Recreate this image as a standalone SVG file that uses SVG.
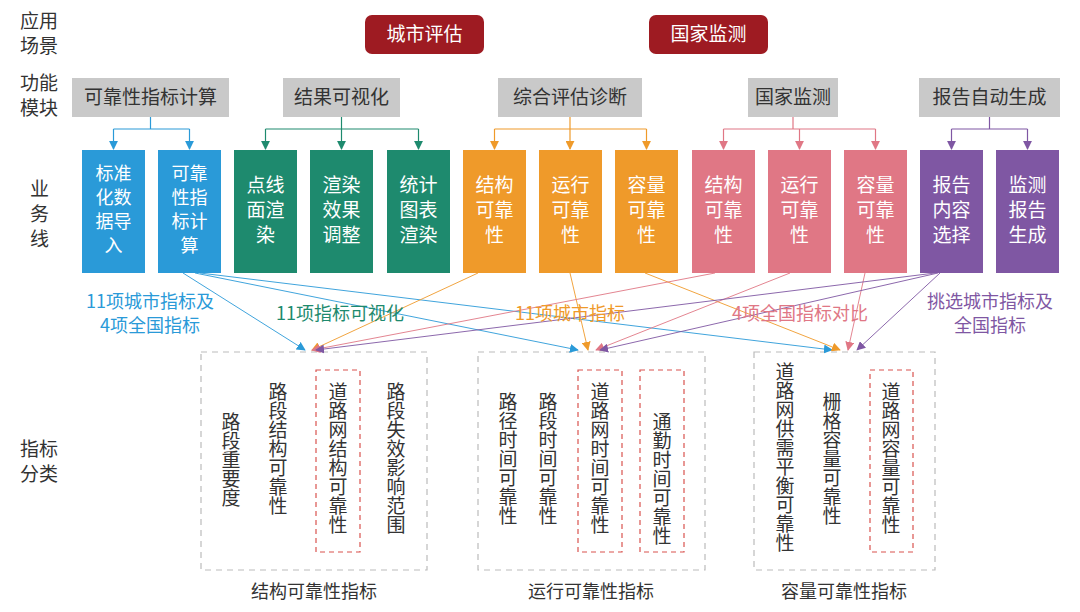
<svg xmlns="http://www.w3.org/2000/svg" width="1080" height="612" viewBox="0 0 1080 612">
<defs>
<style>
text{font-family:"Noto Sans CJK SC","Liberation Sans",sans-serif;font-size:19px;fill:#333}
.w{fill:#fff;text-anchor:middle}
.s{font-size:18px}
.m{fill:#c9c9c9}
.mt{fill:#333;text-anchor:middle}
.v{writing-mode:vertical-rl;letter-spacing:0px}
.dash{fill:none;stroke:#bbb;stroke-width:1.2;stroke-dasharray:6 5}
.rdash{fill:none;stroke:#d9534f;stroke-width:1.2;stroke-dasharray:5 4}
.lb{text-anchor:middle;font-size:18px}
</style>
<marker id="ab" viewBox="0 0 10 10" refX="9" refY="5" markerWidth="9" markerHeight="9" orient="auto" markerUnits="userSpaceOnUse"><path d="M0,0L10,5L0,10z" fill="#2a9ad8"/></marker>
<marker id="ag" viewBox="0 0 10 10" refX="9" refY="5" markerWidth="9" markerHeight="9" orient="auto" markerUnits="userSpaceOnUse"><path d="M0,0L10,5L0,10z" fill="#1e8a6e"/></marker>
<marker id="ao" viewBox="0 0 10 10" refX="9" refY="5" markerWidth="9" markerHeight="9" orient="auto" markerUnits="userSpaceOnUse"><path d="M0,0L10,5L0,10z" fill="#ef9a2a"/></marker>
<marker id="ap" viewBox="0 0 10 10" refX="9" refY="5" markerWidth="9" markerHeight="9" orient="auto" markerUnits="userSpaceOnUse"><path d="M0,0L10,5L0,10z" fill="#e07785"/></marker>
<marker id="av" viewBox="0 0 10 10" refX="9" refY="5" markerWidth="9" markerHeight="9" orient="auto" markerUnits="userSpaceOnUse"><path d="M0,0L10,5L0,10z" fill="#7f57a3"/></marker>
</defs>
<rect width="1080" height="612" fill="#fff"/>
<g id="side-labels">
<text x="20" y="28">应用</text><text x="20" y="53">场景</text>
<text x="20" y="90">功能</text><text x="20" y="115">模块</text>
<text x="30" y="196">业</text><text x="30" y="221">务</text><text x="30" y="246">线</text>
<text x="20" y="456">指标</text><text x="20" y="481">分类</text>
</g>
<g id="scenarios">
<rect x="365" y="15" width="119" height="39" rx="7" fill="#9e1b22"/><text class="w" x="424.5" y="41">城市评估</text>
<rect x="649" y="15" width="119" height="39" rx="7" fill="#9e1b22"/><text class="w" x="708.5" y="41">国家监测</text>
</g>
<g id="modules">
<rect class="m" x="72" y="78" width="157" height="39"/><text class="mt" x="150.5" y="104">可靠性指标计算</text>
<rect class="m" x="283" y="78" width="117" height="39"/><text class="mt" x="341.5" y="104">结果可视化</text>
<rect class="m" x="498" y="78" width="144" height="39"/><text class="mt" x="570" y="104">综合评估诊断</text>
<rect class="m" x="748" y="78" width="90" height="39"/><text class="mt" x="793" y="104">国家监测</text>
<rect class="m" x="919" y="78" width="141" height="39"/><text class="mt" x="989.5" y="104">报告自动生成</text>
</g>
<g id="business">
<rect x="82" y="150" width="63" height="123" fill="#2a9ad8"/><text class="w s" x="113.5" y="180">标准</text><text class="w s" x="113.5" y="204">化数</text><text class="w s" x="113.5" y="228">据导</text><text class="w s" x="113.5" y="252">入</text>
<rect x="158" y="150" width="63" height="123" fill="#2a9ad8"/><text class="w s" x="189.5" y="180">可靠</text><text class="w s" x="189.5" y="204">性指</text><text class="w s" x="189.5" y="228">标计</text><text class="w s" x="189.5" y="252">算</text>
<rect x="234" y="150" width="63" height="123" fill="#1e8a6e"/><text class="w" x="265.5" y="192">点线</text><text class="w" x="265.5" y="217">面渲</text><text class="w" x="265.5" y="242">染</text>
<rect x="310" y="150" width="63" height="123" fill="#1e8a6e"/><text class="w" x="341.5" y="192">渲染</text><text class="w" x="341.5" y="217">效果</text><text class="w" x="341.5" y="242">调整</text>
<rect x="387" y="150" width="63" height="123" fill="#1e8a6e"/><text class="w" x="418.5" y="192">统计</text><text class="w" x="418.5" y="217">图表</text><text class="w" x="418.5" y="242">渲染</text>
<rect x="463" y="150" width="63" height="123" fill="#ef9a2a"/><text class="w" x="494.5" y="192">结构</text><text class="w" x="494.5" y="217">可靠</text><text class="w" x="494.5" y="242">性</text>
<rect x="539" y="150" width="63" height="123" fill="#ef9a2a"/><text class="w" x="570.5" y="192">运行</text><text class="w" x="570.5" y="217">可靠</text><text class="w" x="570.5" y="242">性</text>
<rect x="615" y="150" width="63" height="123" fill="#ef9a2a"/><text class="w" x="646.5" y="192">容量</text><text class="w" x="646.5" y="217">可靠</text><text class="w" x="646.5" y="242">性</text>
<rect x="692" y="150" width="63" height="123" fill="#e07785"/><text class="w" x="723.5" y="192">结构</text><text class="w" x="723.5" y="217">可靠</text><text class="w" x="723.5" y="242">性</text>
<rect x="768" y="150" width="63" height="123" fill="#e07785"/><text class="w" x="799.5" y="192">运行</text><text class="w" x="799.5" y="217">可靠</text><text class="w" x="799.5" y="242">性</text>
<rect x="844" y="150" width="63" height="123" fill="#e07785"/><text class="w" x="875.5" y="192">容量</text><text class="w" x="875.5" y="217">可靠</text><text class="w" x="875.5" y="242">性</text>
<rect x="920" y="150" width="63" height="123" fill="#7f57a3"/><text class="w" x="951.5" y="192">报告</text><text class="w" x="951.5" y="217">内容</text><text class="w" x="951.5" y="242">选择</text>
<rect x="996" y="150" width="63" height="123" fill="#7f57a3"/><text class="w" x="1027.5" y="192">监测</text><text class="w" x="1027.5" y="217">报告</text><text class="w" x="1027.5" y="242">生成</text>
</g>
<g id="categories">
<rect class="dash" x="201" y="352" width="226" height="218"/>
<text class="v" x="231" y="412">路段重要度</text>
<text class="v" x="278" y="382">路段结构可靠性</text>
<rect class="rdash" x="316" y="370" width="44" height="182"/>
<text class="v" x="338" y="382">道路网结构可靠性</text>
<text class="v" x="396" y="382">路段失效影响范围</text>
<text class="lb" x="314" y="598">结构可靠性指标</text>
<rect class="dash" x="478" y="352" width="227" height="218"/>
<text class="v" x="508" y="392">路径时间可靠性</text>
<text class="v" x="548" y="392">路段时间可靠性</text>
<rect class="rdash" x="578" y="370" width="44" height="182"/>
<text class="v" x="600" y="382">道路网时间可靠性</text>
<rect class="rdash" x="640" y="370" width="44" height="182"/>
<text class="v" x="662" y="412">通勤时间可靠性</text>
<text class="lb" x="591" y="598">运行可靠性指标</text>
<rect class="dash" x="754" y="352" width="181" height="218"/>
<text class="v" x="785" y="362">道路网供需平衡可靠性</text>
<text class="v" x="832" y="392">栅格容量可靠性</text>
<rect class="rdash" x="870" y="370" width="43" height="182"/>
<text class="v" x="891" y="382">道路网容量可靠性</text>
<text class="lb" x="844" y="598">容量可靠性指标</text>
</g>
<g id="connectors" fill="none" stroke-width="1.2">
<g stroke="#2a9ad8"><path d="M150.5,117V129M113.5,129H189.5"/><path d="M113.5,129V149" marker-end="url(#ab)"/><path d="M189.5,129V149" marker-end="url(#ab)"/></g>
<g stroke="#1e8a6e"><path d="M265.5,129H418.5"/><path d="M341.5,117V149" marker-end="url(#ag)"/><path d="M265.5,129V149" marker-end="url(#ag)"/><path d="M418.5,129V149" marker-end="url(#ag)"/></g>
<g stroke="#ef9a2a"><path d="M494.5,129H646.5"/><path d="M570,117V149" marker-end="url(#ao)"/><path d="M494.5,129V149" marker-end="url(#ao)"/><path d="M646.5,129V149" marker-end="url(#ao)"/></g>
<g stroke="#e07785"><path d="M793,117V129M723.5,129H875.5"/><path d="M723.5,129V149" marker-end="url(#ap)"/><path d="M799.5,129V149" marker-end="url(#ap)"/><path d="M875.5,129V149" marker-end="url(#ap)"/></g>
<g stroke="#7f57a3"><path d="M989.5,117V129M951.5,129H1027.5"/><path d="M951.5,129V149" marker-end="url(#av)"/><path d="M1027.5,129V149" marker-end="url(#av)"/></g>
<g stroke="#2a9ad8" stroke-width="0.9" marker-end="url(#ab)"><path d="M183,273L305,350"/><path d="M195,273L578,350"/><path d="M200,273L832,350"/></g>
<g stroke="#ef9a2a" stroke-width="0.9" marker-end="url(#ao)"><path d="M478,273L312,350"/><path d="M570,273L588,350"/><path d="M645,273L840,350"/></g>
<g stroke="#e07785" stroke-width="0.9" marker-end="url(#ap)"><path d="M715,273L312,350"/><path d="M790,273L596,350"/><path d="M865,273L848,350"/></g>
<g stroke="#7f57a3" stroke-width="0.9" marker-end="url(#av)"><path d="M935,273L316,350"/><path d="M938,273L600,350"/><path d="M940,273L857,350"/></g>
</g>
<g id="edge-labels">
<text class="lb" x="150" y="308" style="fill:#2a9ad8">11项城市指标及</text>
<text class="lb" x="150" y="332" style="fill:#2a9ad8">4项全国指标</text>
<text class="lb" x="340" y="320" style="fill:#1e8a6e">11项指标可视化</text>
<text class="lb" x="570" y="320" style="fill:#ef9a2a">11项城市指标</text>
<text class="lb" x="800" y="320" style="fill:#e07785">4项全国指标对比</text>
<text class="lb" x="990" y="308" style="fill:#7f57a3">挑选城市指标及</text>
<text class="lb" x="990" y="332" style="fill:#7f57a3">全国指标</text>
</g>
</svg>
